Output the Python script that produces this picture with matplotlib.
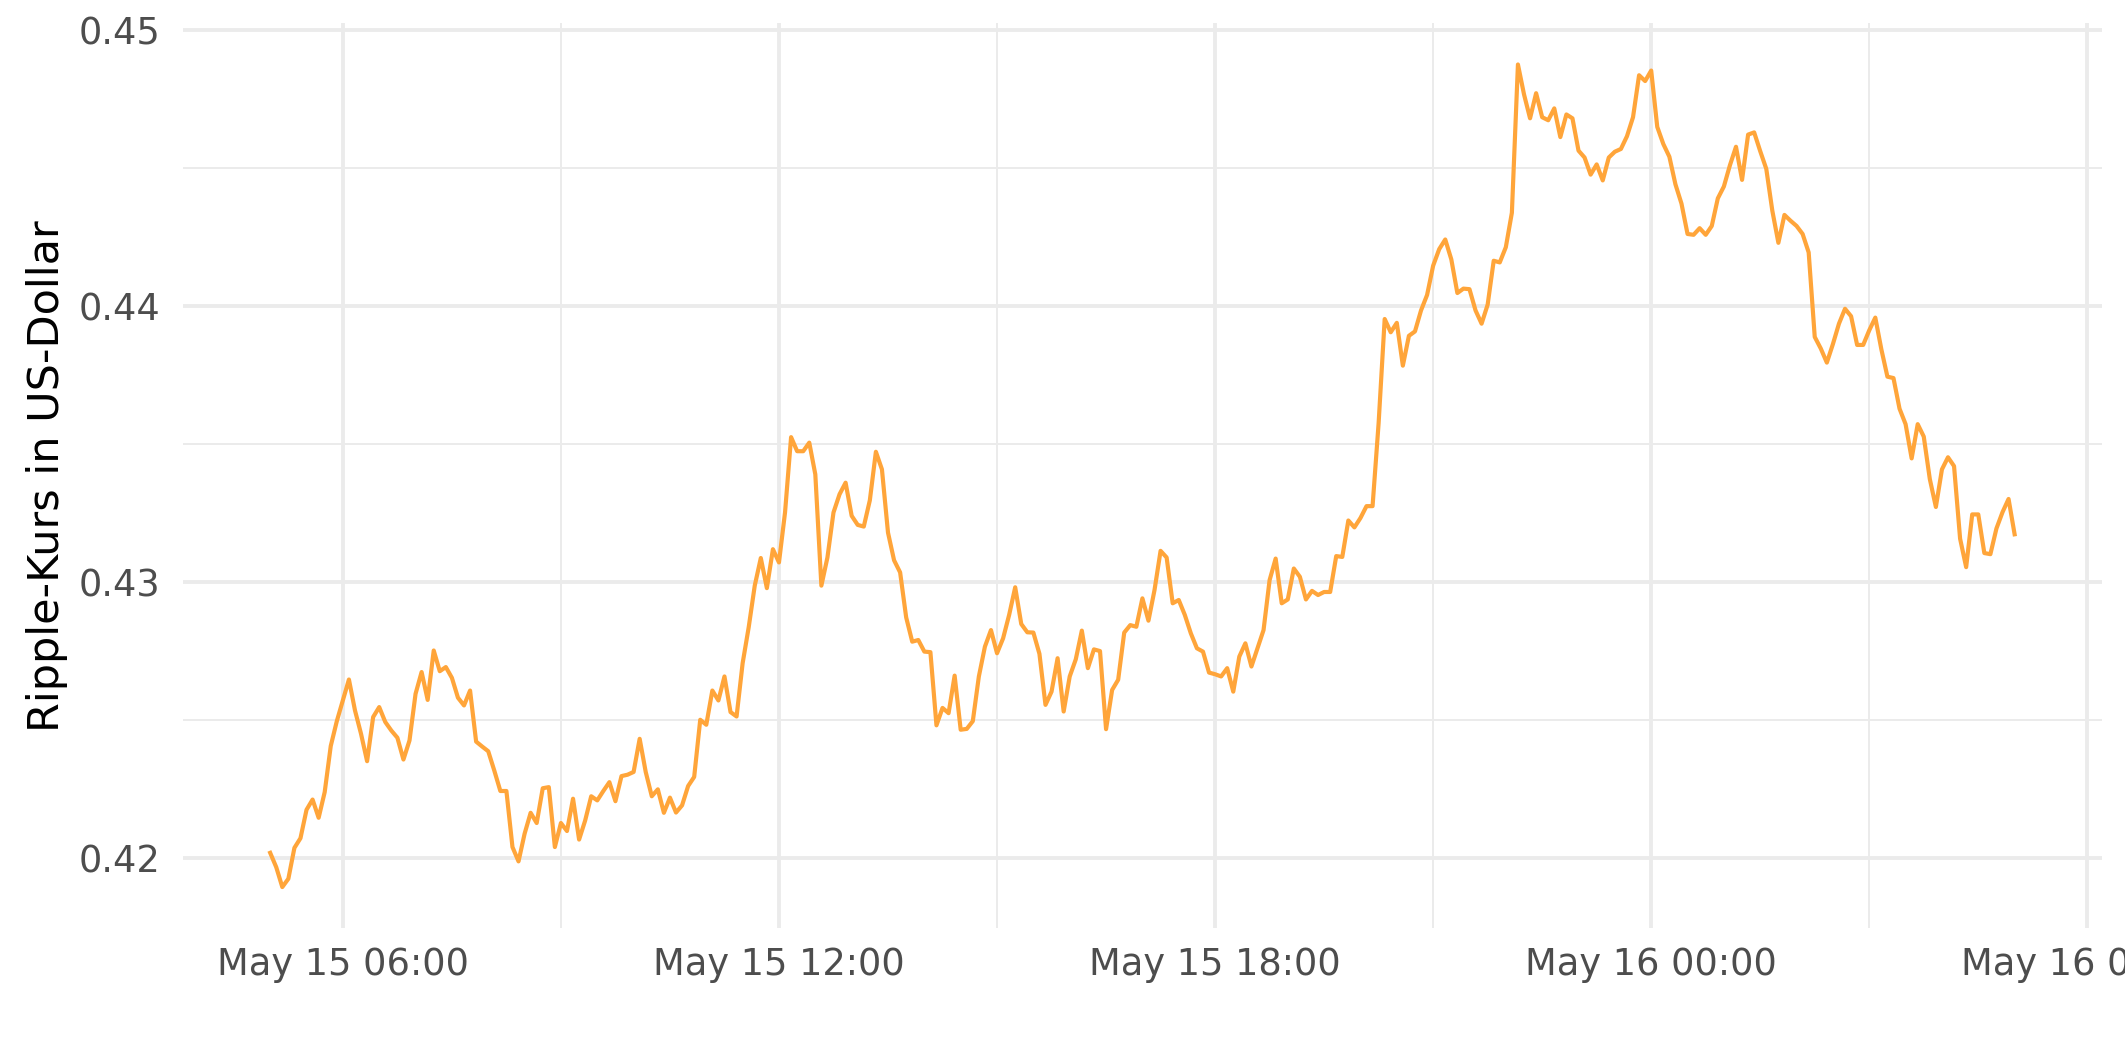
import matplotlib.dates as mdates
import matplotlib.pyplot as plt
import pandas as pd
from matplotlib.ticker import FormatStrFormatter, MultipleLocator

# Ripple-Kurs, 5-Minuten-Werte ab 15. Mai 05:00
start = "2023-05-15 05:00"
kurs = [
    0.42018, 0.41966, 0.41894, 0.41924, 0.42036, 0.42071, 0.42174, 0.42211, 0.42145, 0.42238, 0.42405, 0.42495,
    0.42570, 0.42646, 0.42534, 0.42449, 0.42350, 0.42510, 0.42546, 0.42492, 0.42461, 0.42435, 0.42356, 0.42425,
    0.42594, 0.42673, 0.42572, 0.42751, 0.42676, 0.42691, 0.42652, 0.42580, 0.42552, 0.42606, 0.42421, 0.42403,
    0.42386, 0.42316, 0.42242, 0.42242, 0.42039, 0.41987, 0.42087, 0.42163, 0.42126, 0.42252, 0.42256, 0.42039,
    0.42126, 0.42097, 0.42214, 0.42066, 0.42135, 0.42223, 0.42208, 0.42242, 0.42274, 0.42205, 0.42296, 0.42301,
    0.42311, 0.42431, 0.42311, 0.42223, 0.42248, 0.42163, 0.42218, 0.42164, 0.42190, 0.42260, 0.42293, 0.42500,
    0.42482, 0.42606, 0.42570, 0.42657, 0.42528, 0.42512, 0.42705, 0.42835, 0.42986, 0.43086, 0.42977, 0.43118,
    0.43070, 0.43251, 0.43524, 0.43473, 0.43473, 0.43504, 0.43389, 0.42986, 0.43088, 0.43251, 0.43317, 0.43359,
    0.43239, 0.43206, 0.43200, 0.43295, 0.43471, 0.43407, 0.43178, 0.43078, 0.43034, 0.42871, 0.42783, 0.42789,
    0.42747, 0.42745, 0.42480, 0.42543, 0.42524, 0.42660, 0.42464, 0.42467, 0.42495, 0.42657, 0.42765, 0.42825,
    0.42741, 0.42795, 0.42880, 0.42980, 0.42847, 0.42817, 0.42816, 0.42739, 0.42554, 0.42602, 0.42723, 0.42530,
    0.42657, 0.42719, 0.42823, 0.42687, 0.42755, 0.42749, 0.42466, 0.42608, 0.42645, 0.42816, 0.42843, 0.42837,
    0.42940, 0.42859, 0.42970, 0.43112, 0.43088, 0.42922, 0.42934, 0.42880, 0.42813, 0.42759, 0.42747, 0.42671,
    0.42665, 0.42657, 0.42687, 0.42602, 0.42729, 0.42777, 0.42693, 0.42759, 0.42825, 0.43006, 0.43084, 0.42922,
    0.42936, 0.43048, 0.43018, 0.42936, 0.42967, 0.42952, 0.42963, 0.42963, 0.43093, 0.43090, 0.43222, 0.43197,
    0.43231, 0.43274, 0.43274, 0.43575, 0.43952, 0.43904, 0.43938, 0.43783, 0.43891, 0.43907, 0.43983, 0.44039,
    0.44145, 0.44205, 0.44240, 0.44168, 0.44046, 0.44062, 0.44060, 0.43983, 0.43935, 0.44004, 0.44163, 0.44157,
    0.44212, 0.44337, 0.44874, 0.44766, 0.44679, 0.44770, 0.44683, 0.44672, 0.44715, 0.44611, 0.44693, 0.44679,
    0.44562, 0.44537, 0.44475, 0.44512, 0.44454, 0.44537, 0.44558, 0.44568, 0.44614, 0.44683, 0.44835, 0.44814,
    0.44852, 0.44648, 0.44586, 0.44540, 0.44440, 0.44370, 0.44260, 0.44257, 0.44281, 0.44257, 0.44289, 0.44389,
    0.44432, 0.44509, 0.44576, 0.44456, 0.44620, 0.44628, 0.44560, 0.44496, 0.44344, 0.44228, 0.44329, 0.44308,
    0.44289, 0.44260, 0.44193, 0.43887, 0.43845, 0.43794, 0.43861, 0.43935, 0.43989, 0.43962, 0.43858, 0.43858,
    0.43911, 0.43957, 0.43842, 0.43743, 0.43738, 0.43627, 0.43571, 0.43447, 0.43571, 0.43526, 0.43372, 0.43271,
    0.43407, 0.43451, 0.43419, 0.43156, 0.43053, 0.43244, 0.43244, 0.43104, 0.43100, 0.43193, 0.43252, 0.43300,
    0.43172,
]
y_ticks = [0.42, 0.43, 0.44, 0.45]

zeit = pd.date_range(start, periods=len(kurs), freq="5min")

fig = plt.figure(figsize=(21.25, 10.62), dpi=100)
ax = fig.add_axes([0.0861, 0.126, 0.903, 0.852])

ax.plot(zeit, kurs, color="#FFA53A", linewidth=3.0)
ax.margins(x=0.05, y=0.05)

ax.xaxis.set_major_locator(mdates.HourLocator(byhour=[0, 6, 12, 18]))
ax.xaxis.set_minor_locator(mdates.HourLocator(byhour=[3, 9, 15, 21]))
ax.xaxis.set_major_formatter(mdates.DateFormatter("%b %d %H:%M"))
ax.set_yticks(y_ticks)
ax.yaxis.set_minor_locator(MultipleLocator(0.005))
ax.yaxis.set_major_formatter(FormatStrFormatter("%.2f"))

ax.grid(which="major", color="#EBEBEB", linewidth=2.8)
ax.grid(which="minor", color="#EBEBEB", linewidth=1.4)
ax.set_axisbelow(True)

for spine in ax.spines.values():
    spine.set_visible(False)
ax.tick_params(which="both", length=0)
ax.tick_params(axis="x", pad=13, labelsize=26.5, labelcolor="#4D4D4D")
ax.tick_params(axis="y", pad=16, labelsize=26.5, labelcolor="#4D4D4D")

ax.set_ylabel("Ripple-Kurs in US-Dollar", fontsize=31, labelpad=8)

fig.savefig("out.png", dpi=100)
